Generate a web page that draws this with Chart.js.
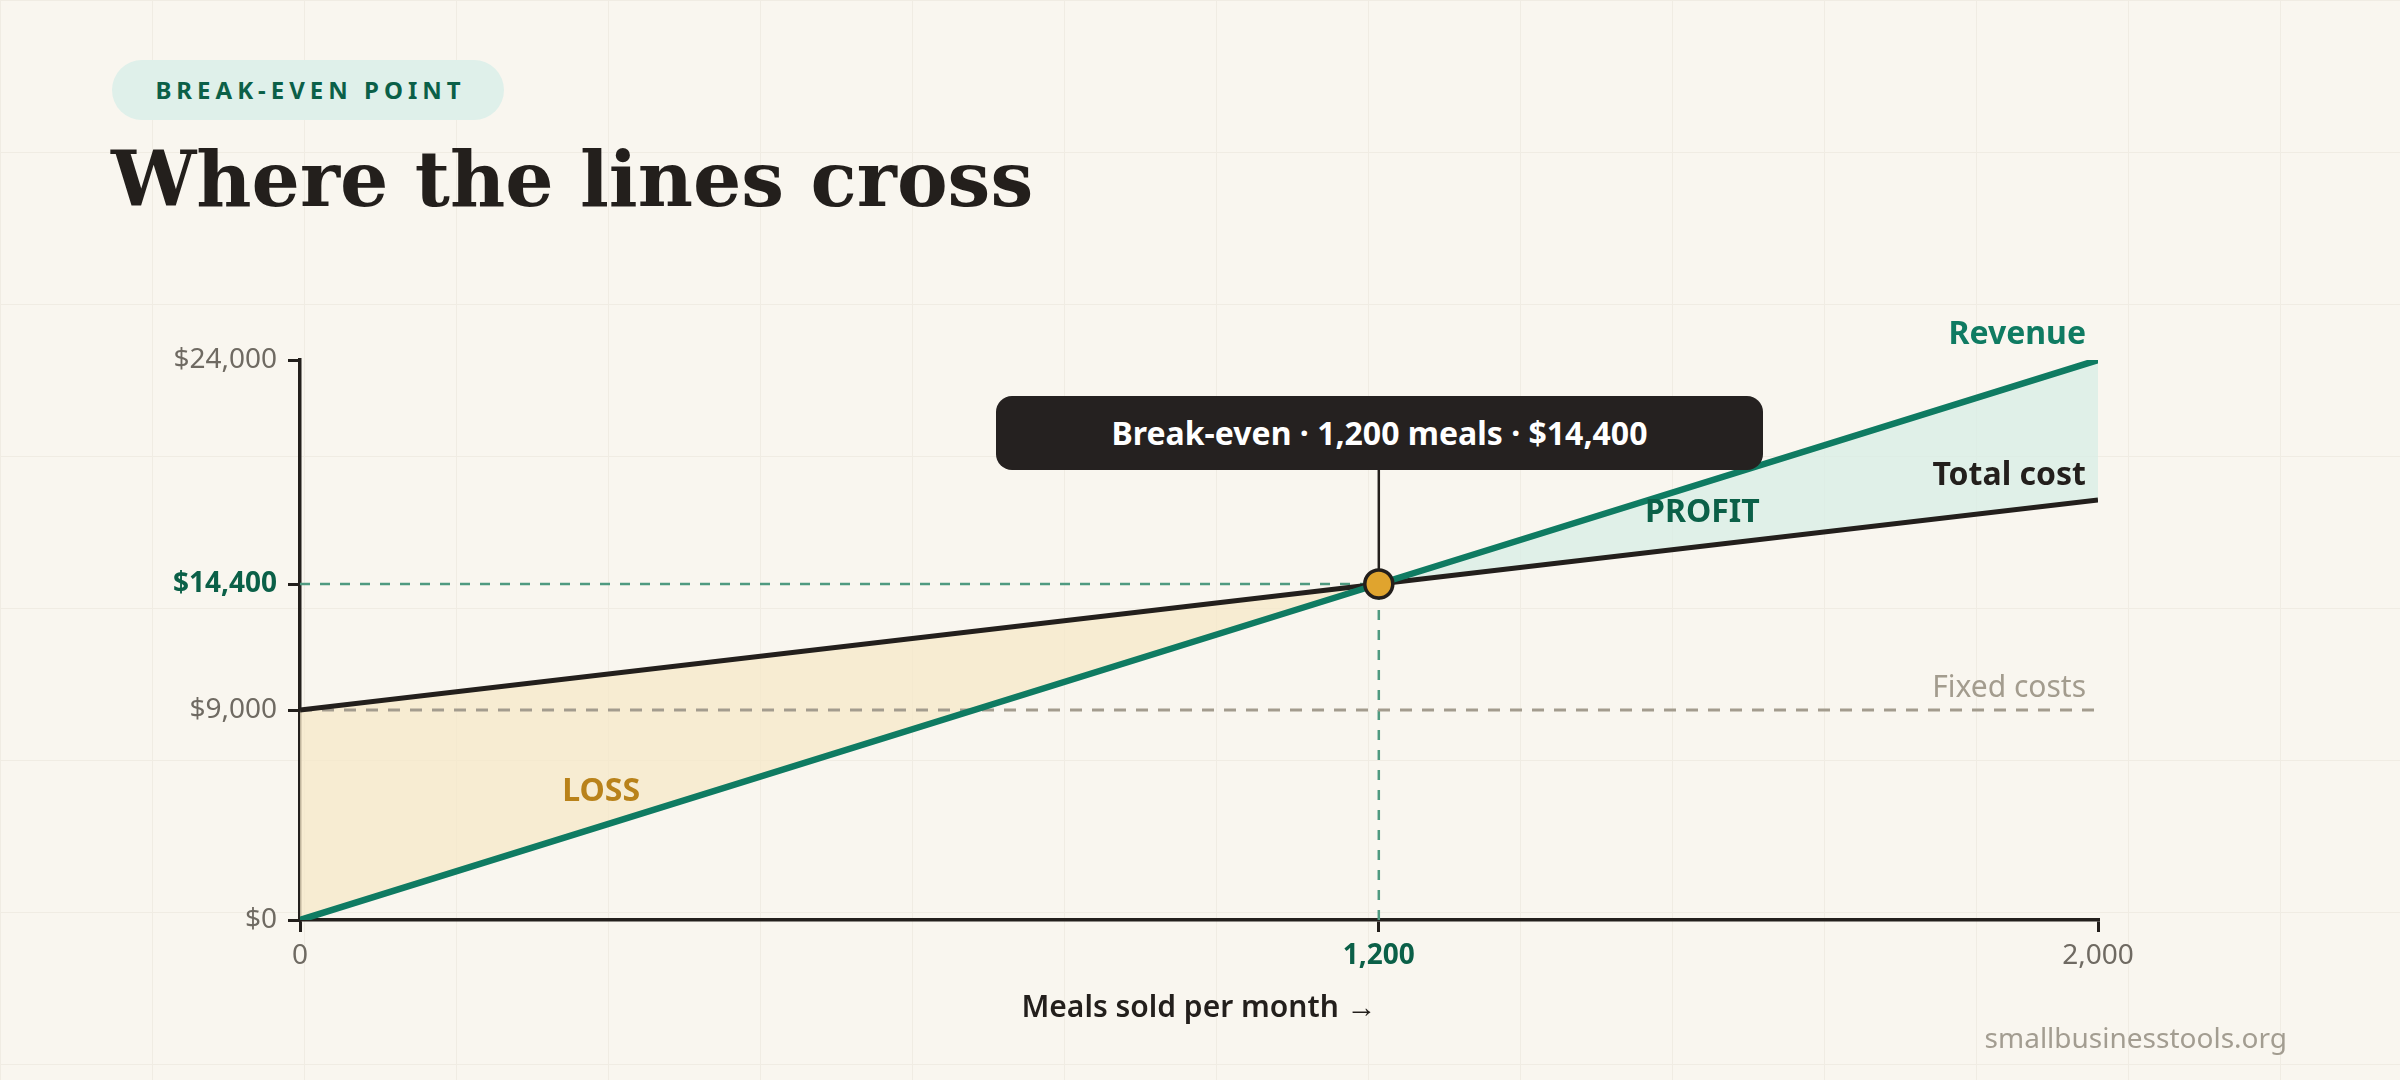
<!DOCTYPE html>
<html>
<head>
<meta charset="utf-8">
<script src="https://cdn.jsdelivr.net/npm/chart.js@4.4.1/dist/chart.umd.min.js"></script>
<style>
  html, body { margin: 0; padding: 0; }
  body {
    width: 2400px; height: 1080px; position: relative; overflow: hidden;
    background-color: #f9f6ef;
    background-image:
      linear-gradient(to right, #f0ece3 1px, transparent 1px),
      linear-gradient(to bottom, #f0ece3 1px, transparent 1px);
    background-size: 152px 152px;
    background-position: 152px 152px;
    font-family: "Noto Sans", sans-serif;
  }
  #chart { position: absolute; left: 0; top: 0; }
  .badge {
    position: absolute; left: 112px; top: 60px; width: 392px; height: 60px;
    border-radius: 30px; background: #dff0ea; color: #0b6048;
    font-weight: 700; font-size: 24px; letter-spacing: 5px;
    line-height: 60px; text-align: center; box-sizing: border-box; padding-left: 5px;
  }
  h1 {
    position: absolute; left: 111px; top: 134px; margin: 0;
    font-family: "DejaVu Serif", serif; font-weight: 700; font-size: 76px;
    color: #231f1c; line-height: 1.2;
  }
  .callout {
    position: absolute; left: 996px; top: 396px; width: 767px; height: 74px;
    border-radius: 16px; background: #252120; color: #fff;
    font-weight: 700; font-size: 32px; line-height: 74px; text-align: center;
  }
  .source {
    position: absolute; right: 113px; top: 1018px; color: #a39d91; font-size: 28px;
  }
</style>
</head>
<body>
<div class="badge">BREAK-EVEN POINT</div>
<h1>Where the lines cross</h1>
<canvas id="chart" width="2400" height="1080"></canvas>
<div class="callout">Break-even · 1,200 meals · $14,400</div>
<div class="source">smallbusinesstools.org</div>
<script>
// meals sold per month at the plotted points
let meals = [0, 1200, 2000]
let revenue = [0, 14400, 24000]
let totalCost = [9000, 14400, 18000]
let fixedCosts = [9000, 9000, 9000]
let breakEven = { meals: 1200, value: 14400 }
let yTicks = [0, 9000, 14400, 24000]
let xTicks = [0, 1200, 2000]

let dark = '#231f1c'
let green = '#0f7b62'
let deepGreen = '#0b6048'

let pts = function(ys){
  return meals.map((m, i) => ({ x: m, y: ys[i] }))
}

let money = v => '$' + v.toLocaleString('en-US')
let isTick = (ctx, v) => ctx.tick && ctx.tick.value === v

let labels = {
  id: 'labels',
  afterDatasetsDraw(chart){
    let c = chart.ctx
    let x = chart.scales.x
    let y = chart.scales.y
    let px = x.getPixelForValue(breakEven.meals)
    let py = y.getPixelForValue(breakEven.value)
    c.save()
    // connector from callout to the point
    c.strokeStyle = dark
    c.lineWidth = 2.5
    c.beginPath()
    c.moveTo(px, 470)
    c.lineTo(px, py - 15)
    c.stroke()

    let xEnd = x.getPixelForValue(2000)
    c.textAlign = 'right'
    c.textBaseline = 'middle'
    c.font = '700 32px "Noto Sans"'
    c.fillStyle = green
    c.fillText('Revenue', xEnd - 12, y.getPixelForValue(24000) - 25)
    c.fillStyle = dark
    c.fillText('Total cost', xEnd - 12, y.getPixelForValue(18000) - 24)
    c.font = '400 30px "Noto Sans"'
    c.fillStyle = '#a39c8e'
    c.fillText('Fixed costs', xEnd - 12, y.getPixelForValue(9000) - 22)

    c.textAlign = 'center'
    c.font = '700 32px "Noto Sans"'
    c.fillStyle = deepGreen
    c.fillText('PROFIT', x.getPixelForValue(1560), y.getPixelForValue(17450))
    c.fillStyle = '#b9821a'
    c.fillText('LOSS', x.getPixelForValue(335), y.getPixelForValue(5500))

    c.font = '600 30px "Noto Sans"'
    c.fillStyle = dark
    c.fillText('Meals sold per month →', (x.left + x.right) / 2, y.bottom + 88)
    c.restore()
  }
}

new Chart(document.getElementById('chart'), {
  type: 'scatter',
  data: {
    datasets: [
      {
        label: 'Break-even',
        data: [{ x: breakEven.meals, y: breakEven.value }],
        pointRadius: 14,
        pointBackgroundColor: '#e0a42e',
        pointBorderColor: dark,
        pointBorderWidth: 3.5,
        order: 0
      },
      {
        label: 'Revenue',
        data: pts(revenue),
        showLine: true,
        borderColor: green,
        borderWidth: 6.5,
        pointRadius: 0,
        fill: { target: 2, above: 'rgba(214,238,229,0.7)', below: 'rgba(246,232,200,0.75)' },
        order: 1
      },
      {
        label: 'Total cost',
        data: pts(totalCost),
        showLine: true,
        borderColor: dark,
        borderWidth: 5,
        pointRadius: 0,
        order: 2
      },
      {
        label: 'Fixed costs',
        data: pts(fixedCosts),
        showLine: true,
        borderColor: '#a39c8e',
        borderWidth: 3,
        borderDash: [12, 10],
        pointRadius: 0,
        order: 3
      },
      {
        label: 'guide h',
        data: [{ x: 0, y: breakEven.value }, { x: breakEven.meals, y: breakEven.value }],
        showLine: true,
        borderColor: '#4f9a80',
        borderWidth: 2.5,
        borderDash: [10, 10],
        pointRadius: 0,
        order: 4
      },
      {
        label: 'guide v',
        data: [{ x: breakEven.meals, y: 0 }, { x: breakEven.meals, y: breakEven.value }],
        showLine: true,
        borderColor: '#4f9a80',
        borderWidth: 2.5,
        borderDash: [10, 10],
        pointRadius: 0,
        order: 4
      }
    ]
  },
  options: {
    responsive: false,
    animation: false,
    devicePixelRatio: 1,
    layout: { padding: { left: 0, right: 302, top: 360, bottom: 30 } },
    plugins: {
      legend: { display: false },
      tooltip: { enabled: false },
      filler: { drawTime: 'beforeDatasetsDraw' }
    },
    scales: {
      x: {
        type: 'linear',
        min: 0,
        max: 2000,
        afterFit: s => { s.height = 130 },
        afterBuildTicks: s => { s.ticks = xTicks.map(v => ({ value: v })) },
        border: { display: true, color: dark, width: 3.5 },
        grid: { drawOnChartArea: false, drawTicks: true, tickLength: 12, color: dark, lineWidth: 3 },
        ticks: {
          padding: 7,
          color: ctx => isTick(ctx, 1200) ? deepGreen : '#6f6a62',
          font: ctx => ({ family: 'Noto Sans', size: 28, weight: isTick(ctx, 1200) ? '700' : '400' }),
          callback: v => v.toLocaleString('en-US')
        }
      },
      y: {
        type: 'linear',
        min: 0,
        max: 24000,
        afterFit: s => { s.width = 300 },
        afterBuildTicks: s => { s.ticks = yTicks.map(v => ({ value: v })) },
        border: { display: true, color: dark, width: 3.5 },
        grid: { drawOnChartArea: false, drawTicks: true, tickLength: 12, color: dark, lineWidth: 3 },
        ticks: {
          padding: 11,
          color: ctx => isTick(ctx, 14400) ? deepGreen : '#6f6a62',
          font: ctx => ({ family: 'Noto Sans', size: 28, weight: isTick(ctx, 14400) ? '700' : '400' }),
          callback: v => money(v)
        }
      }
    }
  },
  plugins: [labels]
})
</script>
</body>
</html>
